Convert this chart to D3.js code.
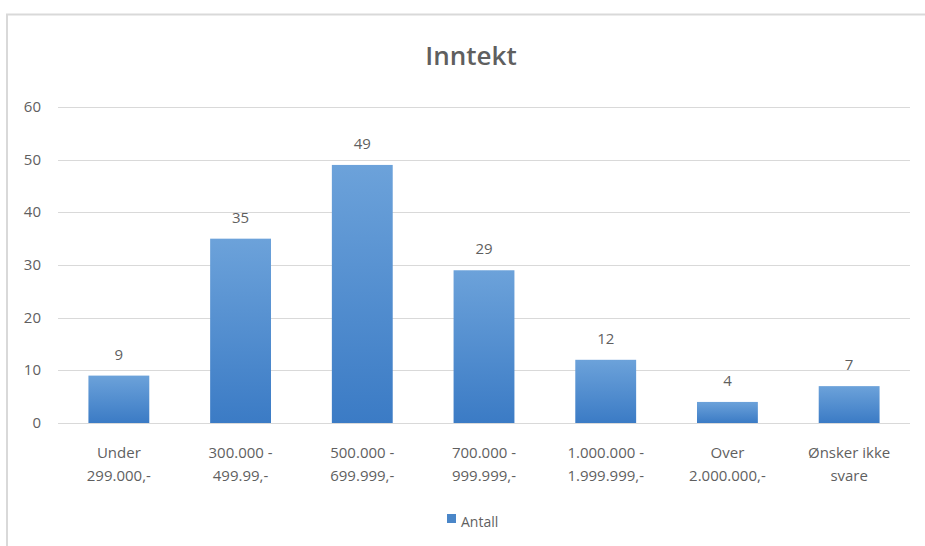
<!DOCTYPE html>
<html lang="no">
<head>
<meta charset="utf-8">
<title>Inntekt</title>
<style>
  body { margin: 0; background: #fff; }
  svg text { font-family: "Open Sans", "Liberation Sans", sans-serif; fill: #5f5f5f; }
</style>
</head>
<body>
<svg id="chart"></svg>
<script src="https://d3js.org/d3.v7.min.js"></script>
<script>
// chart data
var categories = [
  ["Under", "299.000,-"],
  ["300.000 -", "499.99,-"],
  ["500.000 -", "699.999,-"],
  ["700.000 -", "999.999,-"],
  ["1.000.000 -", "1.999.999,-"],
  ["Over", "2.000.000,-"],
  ["Ønsker ikke", "svare"]
];
var values = [9, 35, 49, 29, 12, 4, 7];
var yTicks = [0, 10, 20, 30, 40, 50, 60];
var seriesName = "Antall";
var title = "Inntekt";

var width = 925, height = 546;
var margin = {top: 107, left: 58, right: 15, bottom: 123};

var svg = d3.select("#chart").attr("width", width).attr("height", height);

// frame
svg.append("path")
  .attr("d", "M7,546 V14.5 H925")
  .attr("fill", "none")
  .attr("stroke", "#d9d9d9")
  .attr("stroke-width", 2);

var defs = svg.append("defs");
var grad = defs.append("linearGradient")
  .attr("id", "barGrad")
  .attr("x1", 0).attr("y1", 0).attr("x2", 0).attr("y2", 1);
grad.append("stop").attr("offset", "0%").attr("stop-color", "#6ca2da");
grad.append("stop").attr("offset", "100%").attr("stop-color", "#3b7bc5");

var x = d3.scaleBand()
  .domain(d3.range(categories.length))
  .range([margin.left, width - margin.right])
  .paddingInner(0.5)
  .paddingOuter(0.25);

var y = d3.scaleLinear()
  .domain([0, 60])
  .range([height - margin.bottom, margin.top]);

// gridlines
svg.append("g")
  .selectAll("line")
  .data(yTicks)
  .join("line")
  .attr("x1", margin.left)
  .attr("x2", width - margin.right)
  .attr("y1", d => Math.round(y(d)) + 0.5)
  .attr("y2", d => Math.round(y(d)) + 0.5)
  .attr("stroke", "#d9d9d9")
  .attr("stroke-width", 1.2);

// y tick labels
svg.append("g")
  .selectAll("text")
  .data(yTicks)
  .join("text")
  .attr("x", 41)
  .attr("y", d => y(d) + 5)
  .attr("text-anchor", "end")
  .style("font-size", "15px")
  .text(d => d);

// bars
svg.append("g")
  .selectAll("rect")
  .data(values)
  .join("rect")
  .attr("x", (d, i) => x(i))
  .attr("y", d => y(d))
  .attr("width", x.bandwidth())
  .attr("height", d => y(0) - y(d))
  .attr("fill", "url(#barGrad)");

// value labels
svg.append("g")
  .selectAll("text")
  .data(values)
  .join("text")
  .attr("x", (d, i) => x(i) + x.bandwidth() / 2)
  .attr("y", d => y(d) - 16)
  .attr("text-anchor", "middle")
  .style("font-size", "15px")
  .text(d => d);

// x labels
var xl = svg.append("g")
  .selectAll("text")
  .data(categories)
  .join("text")
  .attr("text-anchor", "middle")
  .style("font-size", "15px");
xl.each(function(d, i) {
  var t = d3.select(this);
  d.forEach(function(line, j) {
    t.append("tspan")
      .attr("x", x(i) + x.bandwidth() / 2)
      .attr("y", 458 + j * 23)
      .text(line);
  });
});

// title
svg.append("text")
  .attr("x", 471)
  .attr("y", 65)
  .attr("text-anchor", "middle")
  .style("font-size", "26px")
  .style("font-weight", 600)
  .text(title);

// legend
var lg = svg.append("g").attr("transform", "translate(447,514)");
lg.append("rect")
  .attr("width", 9).attr("height", 9)
  .attr("fill", "#4a86c8");
lg.append("text")
  .attr("x", 14).attr("y", 13)
  .style("font-size", "14px")
  .text(seriesName);
</script>
</body>
</html>
